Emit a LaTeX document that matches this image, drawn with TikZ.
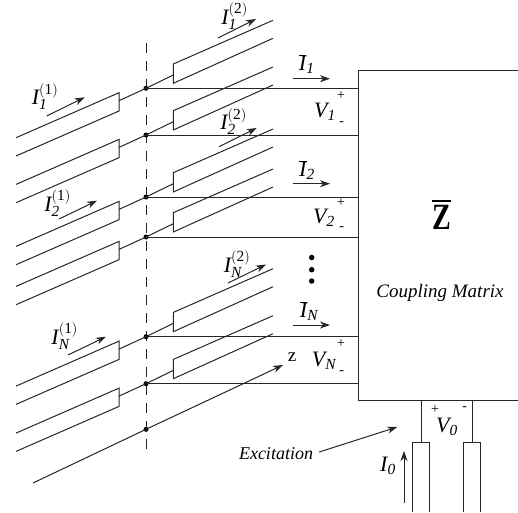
\documentclass[tikz,border=0pt]{standalone}
\usepackage{fontspec}
\setmainfont{Liberation Serif}
\usepackage{graphicx}
\usepackage{tikz}
\usetikzlibrary{arrows.meta,calc}
\tikzset{
  wire/.style    = {line width=1pt, draw=black!85},
  flow/.style    = {-{Stealth[length=10pt,width=7pt,inset=3pt]}, line width=1pt, draw=black!85},
  junct/.style   = {circle, fill=black, inner sep=0pt, minimum size=5pt},
  vdot/.style    = {circle, fill=black, inner sep=0pt, minimum size=5.5pt},
  lbl/.style     = {inner sep=0pt, font=\fontsize{19}{19}\selectfont\itshape},
  curr/.style    = {inner sep=0pt, font=\fontsize{22}{22}\selectfont},
  sgn/.style     = {inner sep=0pt, font=\fontsize{14}{14}\selectfont},
}
\newcommand{\curlab}[2]{$\mathit{I}_{\mathit{#1}}^{\mathrm{(#2)}}$}
\newcommand{\barlab}[1]{$\overline{\mathit{I}}_{\mathit{#1}}$}
\newcommand{\vlab}[1]{$\mathit{V}_{\mathit{#1}}$}
\begin{document}
\begin{tikzpicture}[x=1pt,y=-1pt]
  \useasboundingbox (0,0) rectangle (518,512);

  % dashed reference plane
  \coordinate (planetop) at (146,43);
  \coordinate (planebot) at (146,452);
  \draw[wire,dash pattern=on 10pt off 8pt] (planetop) -- (planebot);

  % coupled elements on both sides of the plane
  \foreach \yj/\nm in {88.3/a,135/b,197/c,237/d,336.7/e,383.7/f}{
    \node[junct] (j\nm) at (146,\yj) {};
    \draw[wire] (16,\yj+49.4) -- (119,\yj+4.4) -- (119,\yj+22.7) -- (16,\yj+67.7);
    \draw[wire] (273,\yj-68) -- (173.3,\yj-24.3) -- (173.3,\yj-5) -- (273,\yj-50);
    \draw[wire] (119,\yj+12.4) -- (j\nm.center) -- (173.3,\yj-13.3);
    \draw[wire] (j\nm.center) -- (358.7,\yj);
  }

  % z axis
  \node[junct] (jz) at (146,429.3) {};
  \coordinate (zstart) at (33,483);
  \coordinate (zend) at (283,365);
  \draw[flow] (zstart) -- (jz.center) -- (zend);
  \node[inner sep=0pt,font=\fontsize{19}{19}\selectfont] (zlab) at (292,357) {z};

  % coupling matrix
  \draw[wire] (518,70.5) -- (358.7,70.5) -- (358.7,400.7) -- (518,400.7);
  \node[inner sep=0pt,font=\fontsize{37}{37}\selectfont\bfseries] (zbar) at (441.5,214.5)
    {\scalebox{0.76}[1]{\vbox{\hrule height 2.5pt \kern 2.5pt \hbox{Z}}}};
  \node[lbl] (cmat) at (440,293) {Coupling Matrix};

  % feed
  \coordinate (fa) at (421,400.7);
  \coordinate (fb) at (472,400.7);
  \draw[wire] (fa) -- (421,442.7);
  \draw[wire] (fb) -- (472,442.7);
  \draw[wire] (412.7,512) -- (412.7,442.7) -- (429.3,442.7) -- (429.3,512);
  \draw[wire] (463.7,512) -- (463.7,442.7) -- (480.3,442.7) -- (480.3,512);

  % element currents
  \draw[flow] (46.7,116) -- (84.7,97.3);
  \draw[flow] (59,219) -- (97,200.7);
  \draw[flow] (68,355) -- (106,336.7);
  \draw[flow] (218,38) -- (256,19);
  \draw[flow] (219,146.7) -- (256.7,128);
  \draw[flow] (228,283) -- (266,264.5);
  \node[curr] (i1a) at (45,96.5) {\curlab{1}{1}};
  \node[curr] (i2a) at (57.5,203) {\curlab{2}{1}};
  \node[curr] (ina) at (64.7,336) {\curlab{N}{1}};
  \node[curr] (i1b) at (234.5,16) {\curlab{1}{2}};
  \node[curr] (i2b) at (233.5,121.5) {\curlab{2}{2}};
  \node[curr] (inb) at (237,264) {\curlab{N}{2}};

  % port currents and voltages
  \draw[flow] (293,78.7) -- (330,78.7);
  \draw[flow] (293,183.7) -- (330,183.7);
  \draw[flow] (293,325) -- (330,325);
  \node[curr] (ibar1) at (306.7,64) {\barlab{1}};
  \node[curr] (ibar2) at (307,170) {\barlab{2}};
  \node[curr] (ibarn) at (309,311) {\barlab{N}};
  \node[curr] (v1) at (325,111.7) {\vlab{1}};
  \node[curr] (v2) at (324,218) {\vlab{2}};
  \node[curr] (vn) at (324,361) {\vlab{N}};
  \node[sgn] (p1) at (341,96) {+};
  \node[sgn] (m1) at (341.7,124) {-};
  \node[sgn] (p2) at (341,203) {+};
  \node[sgn] (m2) at (341.7,229) {-};
  \node[sgn] (pn) at (341,344) {+};
  \node[sgn] (mn) at (341.7,373) {-};

  % continuation dots
  \node[vdot] (da) at (311.7,257.5) {};
  \node[vdot] (db) at (311.7,269.7) {};
  \node[vdot] (dc) at (311.7,281) {};

  % excitation
  \node[lbl,font=\fontsize{18}{18}\selectfont\itshape] (exc) at (276,454) {Excitation};
  \coordinate (excend) at (397.3,427);
  \draw[flow] (exc.east) ++(6,-2) -- (excend);
  \node[curr] (v0) at (447,427) {\vlab{0}};
  \node[sgn] (p0) at (435,410) {+};
  \node[sgn] (m0) at (464.7,409) {-};
  \node[curr] (i0) at (388,466) {$\mathit{I}_{\mathit{0}}$};
  \draw[flow] (404,503.3) -- (404,451);
\end{tikzpicture}
\end{document}
